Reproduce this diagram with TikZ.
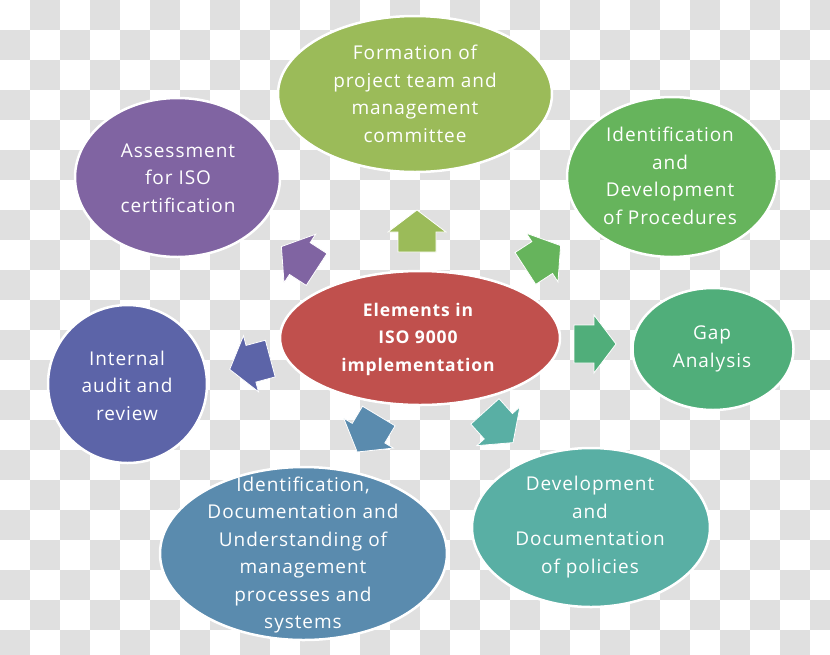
\documentclass[tikz,border=0pt]{standalone}
\usepackage{fontspec}
\setmainfont[LetterSpace=5]{Open Sans}
\usetikzlibrary{shapes.geometric}
\definecolor{bgsq}{HTML}{E0E0E0}
\definecolor{cTop}{HTML}{9BBB59}
\definecolor{cAss}{HTML}{8064A2}
\definecolor{cProc}{HTML}{66B45C}
\definecolor{cGap}{HTML}{50AE7A}
\definecolor{cPol}{HTML}{59AFA4}
\definecolor{cMan}{HTML}{5A8BAE}
\definecolor{cAud}{HTML}{5C64A8}
\definecolor{cMid}{HTML}{C0504D}
\tikzset{
  bubble/.style={ellipse, draw=white, line width=2.5pt, inner sep=0pt},
  txt/.style={text=white, align=center, font=\fontsize{19}{27.5}\selectfont},
  blockarrow/.pic={\path[fill=#1, draw=white, line width=0.8pt]
     (-21,-19) -- (-1,-19) -- (-1,-29) -- (21,0) -- (-1,29) -- (-1,19) -- (-21,19) -- cycle;}
}
\begin{document}
\begin{tikzpicture}[x=1pt,y=-1pt]
\useasboundingbox (0,0) rectangle (830,654);
\clip (0,0) rectangle (830,654);
\fill[white] (0,0) rectangle (830,654);
\foreach \i in {0,...,27}{
  \foreach \j in {0,...,21}{
    \pgfmathtruncatemacro{\myparity}{mod(\i+\j,2)}
    \ifnum\myparity=1 \fill[bgsq] (30*\i,30*\j) rectangle ++(30,30);\fi
  }
}
% bubbles
\node[bubble, fill=cTop, minimum width=274pt, minimum height=156pt] (form) at (415,94) {};
\node[bubble, fill=cAss, minimum width=205pt, minimum height=159pt] (ass) at (177.5,177.5) {};
\node[bubble, fill=cProc, minimum width=210pt, minimum height=160pt] (proc) at (672,177) {};
\node[bubble, fill=cGap, minimum width=161pt, minimum height=122pt] (gap) at (713,349) {};
\node[bubble, fill=cAud, minimum width=159pt, minimum height=158pt] (aud) at (127.5,384) {};
\node[bubble, fill=cMan, minimum width=287pt, minimum height=173pt] (man) at (303.5,553.5) {};
\node[bubble, fill=cPol, minimum width=238pt, minimum height=159pt] (pol) at (591,527.5) {};
\node[bubble, fill=cMid, minimum width=280pt, minimum height=134pt] (mid) at (420,338) {};
% texts
\node[txt] (tform) at (415,94) {Formation of\\project team and\\management\\committee};
\node[txt] (tass) at (178,178) {Assessment\\for ISO\\certification};
\node[txt] (tproc) at (670,176) {Identification\\and\\Development\\of Procedures};
\node[txt] (tgap) at (712,349) {Gap\\Analysis};
\node[txt] (taud) at (127,385.5) {Internal\\audit and\\review};
\node[txt] (tman) at (303,555) {Identification,\\Documentation and\\Understanding of\\management\\processes and\\systems};
\node[txt] (tpol) at (590,527) {Development\\and\\Documentation\\of policies};
\node[txt, font=\bfseries\fontsize{17.5}{27.5}\selectfont] (tmid) at (418,339) {Elements in\\ISO 9000\\implementation};
% block arrows
\pic[rotate=90] (aform) at (417,231) {blockarrow=cTop};
\pic[rotate=147] (aass) at (299,258) {blockarrow=cAss};
\pic[rotate=33] (aproc) at (543,257) {blockarrow=cProc};
\pic[rotate=0] (agap) at (595,344) {blockarrow=cGap};
\pic[rotate=195] (aaud) at (250,364) {blockarrow=cAud};
\pic[rotate=239] (aman) at (368,434) {blockarrow=cMan};
\pic[rotate=-48] (apol) at (499,427) {blockarrow=cPol};
\end{tikzpicture}
\end{document}
